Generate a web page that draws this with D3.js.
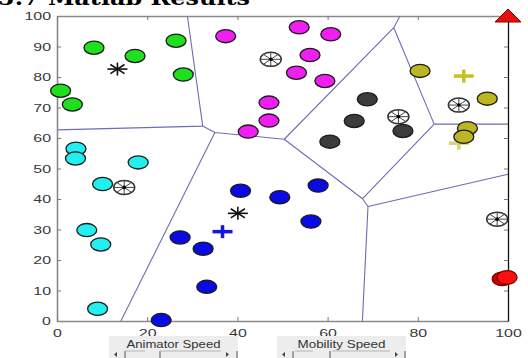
<!DOCTYPE html>
<html>
<head>
<meta charset="utf-8">
<script src="https://cdn.jsdelivr.net/npm/d3@7"></script>
<style>
  body { margin: 0; background: #fff; }
  svg { display: block; }
  .tick text { font-family: "Liberation Sans", Arial, sans-serif; fill: #3a3a3a; }
</style>
</head>
<body>
<div id="chart"></div>
<script>
// ---- data (axis units 0..100) ----
const clusterColors = {
  green: '#1ee01e', magenta: '#f01ef0', cyan: '#22f0f0', blue: '#0a0ae6',
  gray: '#3c3c3c', olive: '#bdb622', red: '#ff1010'
};

const greenNodes   = [[8.2,89.6],[17.3,86.9],[26.4,91.9],[28.0,80.8],[0.8,75.5],[3.4,71.0]];
const magentaNodes = [[37.4,93.4],[53.7,96.3],[60.7,94.0],[56.1,87.2],[53.1,81.4],[59.4,78.7],[47.0,71.6],[47.0,65.7],[42.4,62.1]];
const cyanNodes    = [[4.2,56.5],[4.1,53.3],[18.0,52.0],[10.1,44.9],[6.6,29.8],[9.7,25.1],[9.0,4.0]];
const blueNodes    = [[23.1,0.3],[27.3,27.4],[32.4,23.7],[33.2,11.2],[40.7,42.7],[49.4,40.6],[57.9,44.4],[56.3,32.6]];
const grayNodes    = [[68.8,72.7],[65.9,65.6],[76.7,62.3],[60.5,58.8]];
const oliveNodes   = [[80.5,82.0],[95.4,72.9],[91.0,63.2],[90.2,60.4]];
const redNodes     = [[98.7,13.8],[99.8,14.3]];

// cluster heads: asterisk or wheel
const heads = [
  {x:13.4, y:82.6, kind:'star'},
  {x:40.1, y:35.3, kind:'star'},
  {x:14.9, y:43.8, kind:'wheel'},
  {x:47.4, y:85.8, kind:'wheel'},
  {x:75.7, y:67.0, kind:'wheel'},
  {x:89.1, y:70.8, kind:'wheel'},
  {x:97.6, y:33.4, kind:'wheel'}
];
// plus markers
const plusMarks = [
  {x:36.7, y:29.3, c:'blue'},
  {x:90.2, y:80.3, c:'olive'},
  {x:89.1, y:58.3, c:'oliveFaint'}
];
// voronoi sites = heads + faint olive plus
const voronoiSites = heads.map(d => [d.x, d.y]).concat([[89.1, 58.3]]);

const basePoint = [100, 100];
const yTicks = d3.range(0, 101, 10);
const xTicks = d3.range(0, 101, 20);
const sliderLabels = ['Animator Speed', 'Mobility Speed'];

// ---- layout ----
const W = 528, H = 358;
const x = d3.scaleLinear().domain([0, 100]).range([57, 508]);
const y = d3.scaleLinear().domain([0, 100]).range([321, 16]);

const svg = d3.select('#chart').append('svg').attr('width', W).attr('height', H);
svg.append('rect').attr('width', W).attr('height', H).attr('fill', '#fff');

// title (cut off at top)
svg.append('text')
  .attr('x', -2).attr('y', 5)
  .attr('textLength', 252).attr('lengthAdjust', 'spacingAndGlyphs')
  .style('font-family', '"DejaVu Serif", "Liberation Serif", serif')
  .style('font-weight', 'bold').style('font-size', '20px')
  .text('5.7 Matlab Results');

// voronoi edges, computed in data space and drawn through the scales
const vor = d3.Delaunay.from(voronoiSites).voronoi([0, 0, 100, 100]);
const p = d3.path();
vor.render({
  moveTo: (a, b) => p.moveTo(x(a), y(b)),
  lineTo: (a, b) => p.lineTo(x(a), y(b)),
  closePath: () => p.closePath()
});
svg.append('path').attr('d', p.toString())
  .attr('fill', 'none').attr('stroke', '#6a6eb4').attr('stroke-width', 1.1);

// axes
function scaleText(sel, sx) {
  sel.selectAll('.tick text').each(function() {
    const t = d3.select(this);
    const tx = +t.attr('x') || 0, ty = +t.attr('y') || 0;
    t.attr('x', 0).attr('y', 0).attr('transform', `translate(${tx},${ty}) scale(${sx},1)`);
  });
}
const gl = svg.append('g').attr('transform', `translate(${x(0)},0)`)
  .call(d3.axisLeft(y).tickValues(yTicks).tickSize(-4).tickSizeOuter(0).tickPadding(6));
const gb = svg.append('g').attr('transform', `translate(0,${y(0)})`)
  .call(d3.axisBottom(x).tickValues(xTicks).tickSize(-4).tickSizeOuter(0).tickPadding(8));
const gt = svg.append('g').attr('transform', `translate(0,${y(100)})`)
  .call(d3.axisTop(x).tickValues(xTicks).tickSize(-4).tickSizeOuter(0).tickFormat(''));
const gr = svg.append('g').attr('transform', `translate(${x(100)},0)`)
  .call(d3.axisRight(y).tickValues(yTicks).tickSize(-4).tickSizeOuter(0).tickFormat(''));

[gl, gb, gt, gr].forEach(g => {
  g.selectAll('.tick text').style('font-size', '11px');
  g.selectAll('.tick line').attr('stroke', '#777');
});
[gl, gb, gt].forEach(g => g.select('.domain').attr('stroke', '#8a8a8a').attr('stroke-width', 1.6));
gr.select('.domain').attr('stroke', '#111').attr('stroke-width', 1.3);
scaleText(gl, 1.45);
scaleText(gb, 1.45);

// faint plus drawn under the nodes
const plusColors = { blue: '#1515e0', olive: '#c8c020', oliveFaint: '#d9d27a' };
function drawPlus(d) {
  const g = svg.append('g').attr('transform', `translate(${x(d.x)},${y(d.y)})`)
    .attr('stroke', plusColors[d.c]).attr('stroke-width', 3.5);
  g.append('line').attr('x1', -10).attr('x2', 10);
  g.append('line').attr('y1', -6.5).attr('y2', 6.5);
}
plusMarks.filter(d => d.c === 'oliveFaint').forEach(drawPlus);

// nodes
const groups = [
  [greenNodes, 'green'], [magentaNodes, 'magenta'], [cyanNodes, 'cyan'],
  [blueNodes, 'blue'], [grayNodes, 'gray'], [oliveNodes, 'olive']
];
groups.forEach(([pts, c]) => {
  svg.append('g').selectAll('ellipse').data(pts).join('ellipse')
    .attr('cx', d => x(d[0])).attr('cy', d => y(d[1]))
    .attr('rx', 10).attr('ry', 6.6)
    .attr('fill', clusterColors[c]).attr('stroke', '#1c1c1c').attr('stroke-width', 1.3);
});
svg.append('g').selectAll('ellipse').data(redNodes).join('ellipse')
  .attr('cx', d => x(d[0])).attr('cy', d => y(d[1]))
  .attr('rx', 10).attr('ry', 6.8)
  .attr('fill', (d, i) => i === 0 ? '#c80000' : clusterColors.red)
  .attr('stroke', '#7a0000').attr('stroke-width', 1.2);

plusMarks.filter(d => d.c !== 'oliveFaint').forEach(drawPlus);

// heads
heads.forEach(d => {
  const g = svg.append('g').attr('transform', `translate(${x(d.x)},${y(d.y)})`);
  if (d.kind === 'wheel') {
    g.append('ellipse').attr('rx', 10.5).attr('ry', 7).attr('fill', '#fff')
      .attr('stroke', '#333').attr('stroke-width', 1.5);
    d3.range(8).forEach(k => {
      const a = k * Math.PI / 4;
      g.append('line').attr('x2', 10.5 * Math.cos(a)).attr('y2', 7 * Math.sin(a))
        .attr('stroke', '#444').attr('stroke-width', 1);
    });
    g.append('circle').attr('r', 1.8).attr('fill', '#000');
  } else {
    d3.range(4).forEach(k => {
      const a = k * Math.PI / 4;
      g.append('line')
        .attr('x1', -10 * Math.cos(a)).attr('y1', -6.5 * Math.sin(a))
        .attr('x2', 10 * Math.cos(a)).attr('y2', 6.5 * Math.sin(a))
        .attr('stroke', '#111').attr('stroke-width', 1.6);
    });
  }
});

// base station triangle
svg.append('path')
  .attr('transform', `translate(${x(basePoint[0])},${y(basePoint[1])})`)
  .attr('d', 'M0,-7L13,6L-13,6Z')
  .attr('fill', '#e31010').attr('stroke', '#8a0000').attr('stroke-width', 1);

// slider panels
const panels = [
  {x0: 109, x1: 238, arrowL: 115, arrowR: 228, bars: [125, 160, 237], segs: [[125, 145], [160, 221]]},
  {x0: 277, x1: 406, arrowL: 283, arrowR: 397, bars: [293, 330, 405], segs: [[295, 313], [332, 390]]}
];
panels.forEach((pn, i) => {
  const g = svg.append('g');
  g.append('rect').attr('x', pn.x0).attr('y', 336).attr('width', pn.x1 - pn.x0).attr('height', 22)
    .attr('fill', '#ededed');
  const cx = (pn.x0 + pn.x1) / 2;
  g.append('text').attr('x', cx).attr('y', 348).attr('text-anchor', 'middle')
    .attr('textLength', i === 0 ? 94 : 88).attr('lengthAdjust', 'spacingAndGlyphs')
    .style('font-family', '"Liberation Sans", Arial, sans-serif').style('font-size', '11px')
    .attr('fill', '#333').text(sliderLabels[i]);
  pn.bars.forEach(bx => g.append('line').attr('x1', bx).attr('x2', bx).attr('y1', 351).attr('y2', 358)
    .attr('stroke', '#555').attr('stroke-width', 1));
  pn.segs.forEach(s => g.append('line').attr('x1', s[0]).attr('x2', s[1]).attr('y1', 351).attr('y2', 351)
    .attr('stroke', '#b5b5b5').attr('stroke-width', 1));
  g.append('path').attr('d', `M${pn.arrowL + 2},352L${pn.arrowL - 1},354.5L${pn.arrowL + 2},357Z`).attr('fill', '#444');
  g.append('path').attr('d', `M${pn.arrowR - 2},352L${pn.arrowR + 1},354.5L${pn.arrowR - 2},357Z`).attr('fill', '#444');
});
</script>
</body>
</html>
